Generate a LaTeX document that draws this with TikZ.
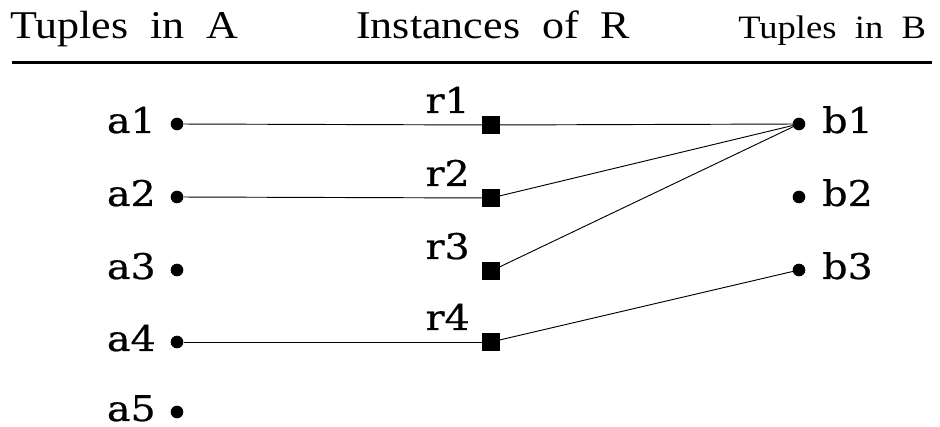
\documentclass[tikz,border=0pt]{standalone}
\usepackage{fontspec}
\newfontfamily\headfont[FakeStretch=1.12,WordSpace=2.0]{Liberation Serif}
\newfontfamily\labfont[FakeStretch=1.12,FakeBold=0.6]{DejaVu Serif}
\begin{document}
\begin{tikzpicture}[x=0.75pt,y=-0.75pt,
  head/.style={inner sep=0pt,anchor=base west,font=\headfont\fontsize{29.5}{32}\selectfont},
  headsmall/.style={inner sep=0pt,anchor=base west,font=\headfont\fontsize{24.5}{28}\selectfont},
  lab/.style={inner sep=0pt,font=\labfont\fontsize{26.5}{30}\selectfont},
  dotnode/.style={circle,fill=black,inner sep=0pt,minimum size=9.5pt},
  sqnode/.style={rectangle,fill=black,inner sep=0pt,minimum size=13pt},
  conn/.style={line width=0.7pt,black}]
\useasboundingbox (0,0) rectangle (940,427);
% headings
\node[head] (hA) at (10,39) {Tuples in A};
\node[head] (hR) at (356,39) {Instances of R};
\node[headsmall] (hB) at (738,39) {Tuples in B};
\coordinate (ruleL) at (12,63);
\coordinate (ruleR) at (932,63);
\draw[line width=2.25pt] (ruleL) -- (ruleR);
% A dots
\foreach \i/\y in {1/124,2/197,3/270,4/342,5/412}{
  \node[dotnode] (a\i) at (177,\y) {};
  \node[lab,anchor=base east] (la\i) at (156,\y+9) {a\i};
}
% R squares
\foreach \i/\y in {1/125,2/198,3/271,4/342}{
  \node[sqnode] (r\i) at (491,\y) {};
  \node[lab,anchor=base east] (lr\i) at (470,\y-12) {r\i};
}
% B dots
\foreach \i/\y in {1/124,2/197,3/270}{
  \node[dotnode] (b\i) at (799,\y) {};
  \node[lab,anchor=base west] (lb\i) at (822,\y+9) {b\i};
}
% connectors
\draw[conn] (a1) -- (r1);
\draw[conn] (r1) -- (b1.center);
\draw[conn] (a2) -- (r2);
\draw[conn] (r2) -- (b1.center);
\draw[conn] (r3) -- (b1.center);
\draw[conn] (a4) -- (r4);
\draw[conn] (r4) -- (b3.center);
\end{tikzpicture}
\end{document}
